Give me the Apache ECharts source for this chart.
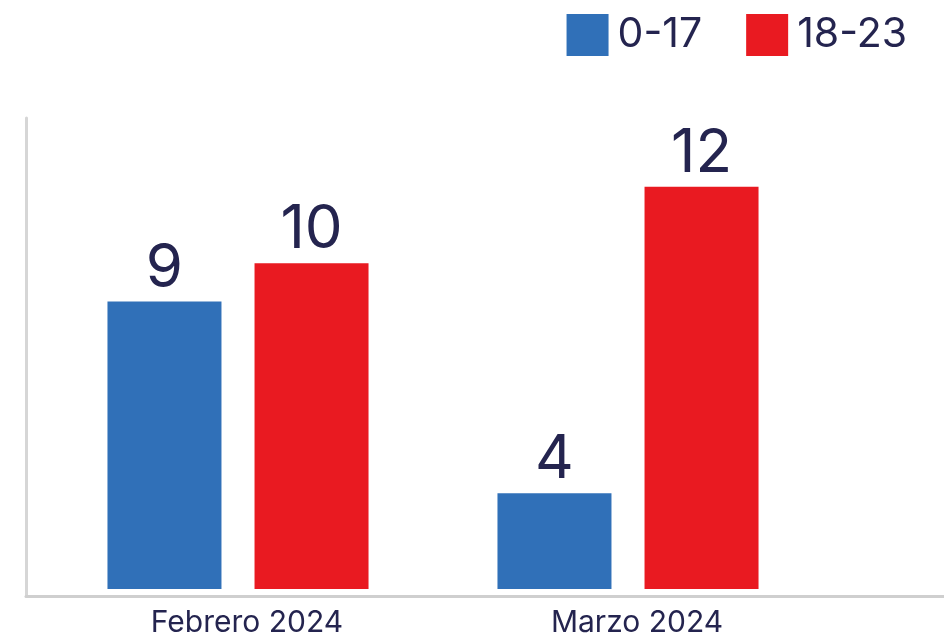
<!DOCTYPE html>
<html>
<head>
<meta charset="utf-8">
<script src="https://cdn.jsdelivr.net/npm/echarts@6/dist/echarts.min.js"></script>
<style>
html,body{margin:0;padding:0;background:#fff;}
#chart{width:944px;height:638px;}
</style>
</head>
<body>
<div id="chart"></div>
<script>
const categories = ['Febrero 2024', 'Marzo 2024'];
const seriesNames = ['0-17', '18-23'];
const values0to17 = [9, 4];
const values18to23 = [10, 12];

const BLUE = '#3070b8';
const RED = '#e91a21';
const TEXT = '#24244f';
const FONT = 'Inter, Roboto, sans-serif';

const chart = echarts.init(document.getElementById('chart'), null, {renderer: 'canvas'});

const labelStyle = {
  show: true,
  position: 'top',
  distance: 3,
  fontSize: 60,
  fontFamily: FONT,
  color: TEXT
};

chart.setOption({
  animation: false,
  backgroundColor: '#fff',
  legend: {
    data: seriesNames,
    right: 32,
    top: 9,
    itemWidth: 42,
    itemHeight: 42,
    itemGap: 44,
    icon: 'rect',
    textStyle: {fontSize: 41, fontFamily: FONT, color: TEXT, padding: [0, 0, 0, 4]}
  },
  grid: [
    {left: 43, right: 121, top: 110, bottom: 48},
    {left: 26, right: -4, top: 118, bottom: 42}
  ],
  xAxis: [
    {
      type: 'category', data: categories, gridIndex: 0,
      axisLine: {show: false}, axisTick: {show: false},
      axisLabel: {fontSize: 30, fontFamily: FONT, color: TEXT, margin: 19, padding: [0, 0, 0, 18]}
    },
    {
      type: 'value', gridIndex: 1, min: 0, max: 1,
      axisLine: {show: true, lineStyle: {color: '#cfcfcf', width: 3}},
      axisTick: {show: false}, axisLabel: {show: false}, splitLine: {show: false}
    }
  ],
  yAxis: [
    {
      type: 'value', gridIndex: 0, min: 1.5, max: 14,
      axisLine: {show: false}, axisTick: {show: false},
      axisLabel: {show: false}, splitLine: {show: false}
    },
    {
      type: 'value', gridIndex: 1, min: 0, max: 1,
      axisLine: {show: true, lineStyle: {color: '#d6d6d6', width: 3}},
      axisTick: {show: false}, axisLabel: {show: false}, splitLine: {show: false}
    }
  ],
  series: [
    {
      name: seriesNames[0], type: 'bar', xAxisIndex: 0, yAxisIndex: 0,
      data: values0to17, barWidth: 114, barGap: '29%',
      itemStyle: {color: BLUE}, label: labelStyle
    },
    {
      name: seriesNames[1], type: 'bar', xAxisIndex: 0, yAxisIndex: 0,
      data: values18to23, barWidth: 114, barGap: '29%',
      itemStyle: {color: RED}, label: labelStyle
    }
  ]
});
</script>
</body>
</html>
